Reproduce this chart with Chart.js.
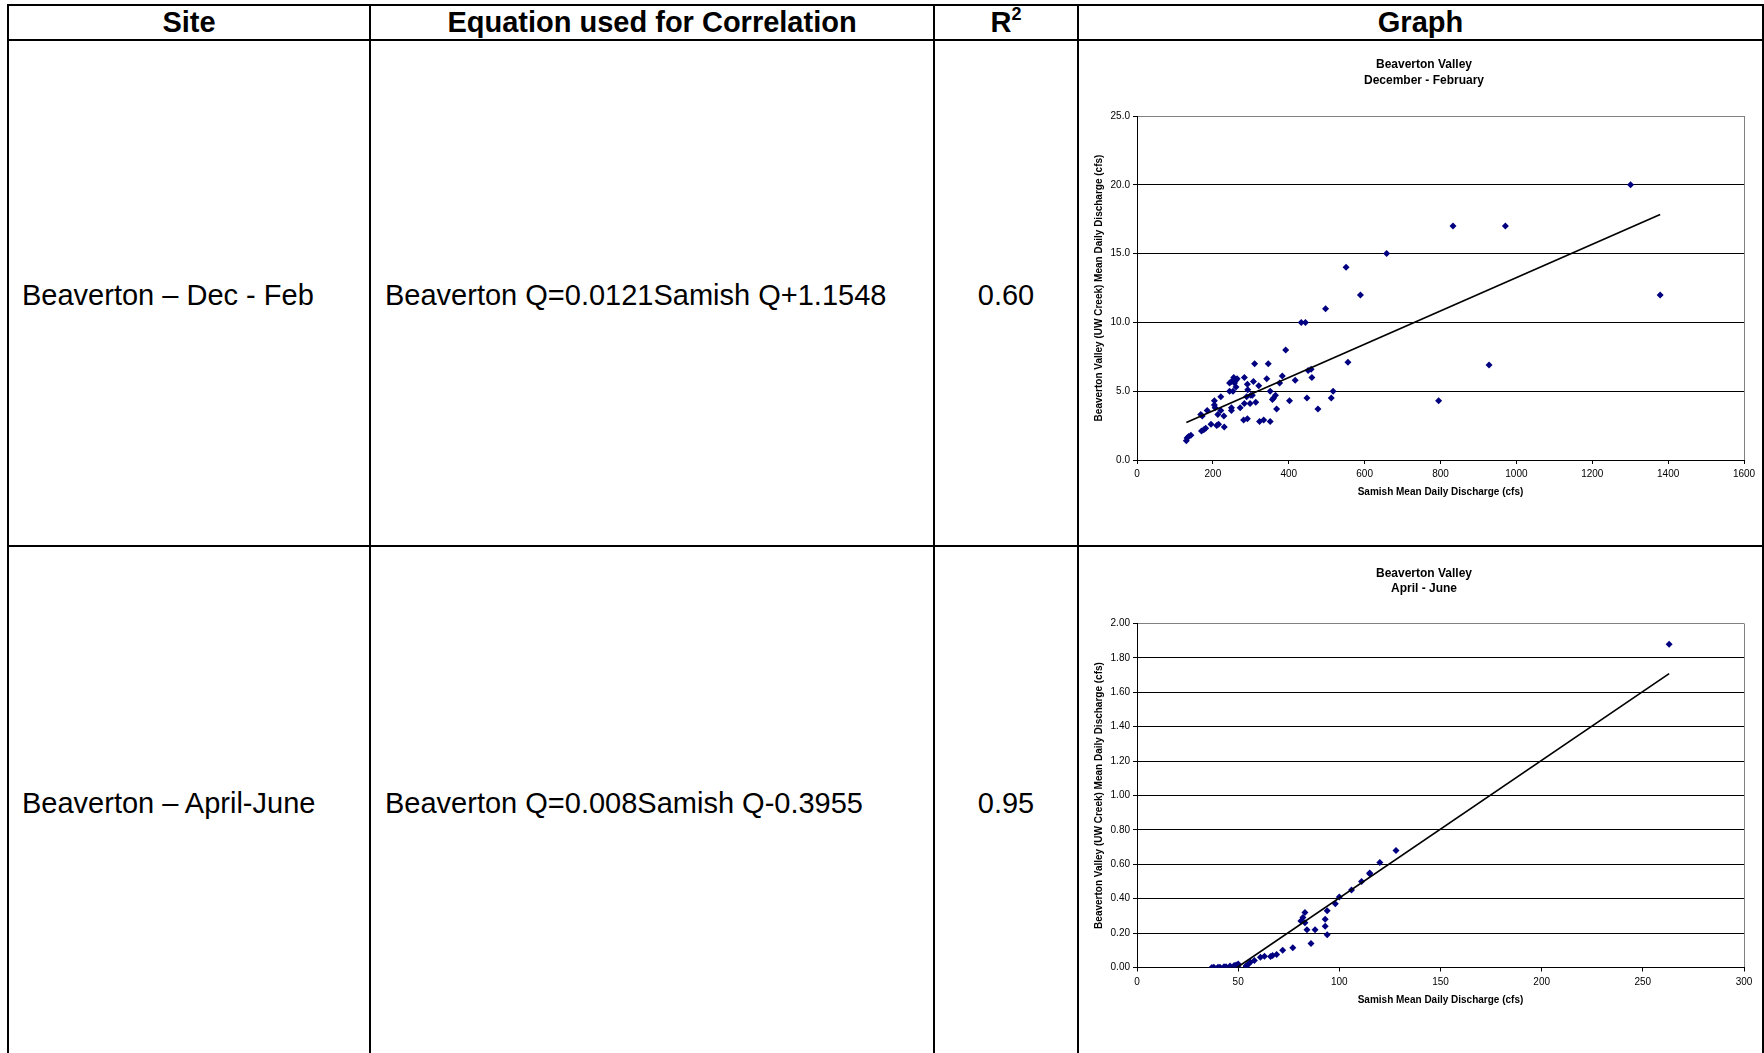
<!DOCTYPE html>
<html>
<head>
<meta charset="utf-8">
<title>Beaverton Valley discharge correlations</title>
<script src="https://cdn.jsdelivr.net/npm/chart.js@4.4.1/dist/chart.umd.min.js"></script>
<style>
  html, body { margin: 0; padding: 0; background: #fff; }
  body {
    width: 1764px; height: 1053px; overflow: hidden; position: relative;
    font-family: 'Liberation Sans', Arial, Helvetica, sans-serif; color: #000;
  }
  .ln { position: absolute; background: #000; }
  .cell { position: absolute; display: flex; align-items: center; font-size: 29px; white-space: nowrap; box-sizing: border-box; }
  .hd { justify-content: center; font-weight: bold; }
  .ctr { justify-content: center; }
  .lft { justify-content: flex-start; }
  .hd sup { font-size: 18px; line-height: 0; position: relative; top: -9px; vertical-align: baseline; }
  canvas { position: absolute; }
</style>
</head>
<body>
<div id="grid"></div>
<canvas id="chartDecFeb" width="682" height="504" style="left:1080px; top:41px;"></canvas>
<canvas id="chartAprJun" width="682" height="506" style="left:1080px; top:547px;"></canvas>

<script>
// ---- Table content ----
const headers = ['Site', 'Equation used for Correlation', 'R<sup>2</sup>', 'Graph'];
const sites = ['Beaverton \u2013 Dec - Feb', 'Beaverton \u2013 April-June'];
const slopes = [0.0121, 0.008];
const intercepts = [1.1548, -0.3955];
const rSquared = ['0.60', '0.95'];

// ---- December - February ----
const samishDecFeb = [130, 132, 136, 142, 170, 176, 181, 168, 172, 185,
  195, 204, 204, 206, 210, 215, 213, 221, 221, 229,
  230, 244, 244, 249, 253, 249, 249, 255, 257, 261,
  261, 264, 272, 281, 283, 283, 289, 291, 292, 291,
  298, 300, 304, 307, 310, 313, 321, 323, 334, 342,
  346, 351, 351, 357, 360, 365, 368, 376, 383, 392,
  402, 417, 433, 444, 448, 451, 459, 461, 477, 497,
  512, 517, 551, 556, 589, 658, 795, 833, 928, 971,
  1301, 1379];
const beavertonDecFeb = [1.4, 1.6, 1.7, 1.8, 2.1, 2.2, 2.3, 3.3, 3.2, 3.6,
  2.6, 4.3, 4.0, 3.8, 2.5, 2.6, 3.3, 4.6, 3.6, 3.2,
  2.4, 5.6, 5.0, 5.7, 5.0, 3.8, 3.6, 6.0, 5.6, 5.8,
  5.3, 5.9, 3.8, 2.9, 6.0, 4.1, 4.6, 5.5, 5.1, 3.0,
  4.1, 4.7, 4.7, 5.7, 7.0, 4.2, 5.4, 2.8, 2.9, 5.9,
  7.0, 5.0, 2.8, 4.4, 4.5, 4.7, 3.7, 5.6, 6.1, 8.0,
  4.3, 5.8, 10.0, 10.0, 4.5, 6.5, 6.6, 6.0, 3.7, 11.0,
  4.5, 5.0, 14.0, 7.1, 12.0, 15.0, 4.3, 17.0, 6.9, 17.0,
  20.0, 12.0];
const trendRangeDecFeb = [130, 1379];
const xTicksDecFeb = [0, 200, 400, 600, 800, 1000, 1200, 1400, 1600];
const xTickLabelsDecFeb = ['0', '200', '400', '600', '800', '1000', '1200', '1400', '1600'];
const yTicksDecFeb = [0, 5, 10, 15, 20, 25];
const yTickLabelsDecFeb = ['0.0', '5.0', '10.0', '15.0', '20.0', '25.0'];

// ---- April - June ----
const samishAprJun = [263, 128, 120, 115, 115, 111, 106, 100, 98, 94,
  93, 93, 94, 88, 84, 83, 82, 81, 83, 86,
  77, 72, 69, 66, 67, 63, 61, 58, 56, 55,
  54, 54, 50, 49, 50, 48, 46, 44, 43, 41,
  40, 38, 37];
const beavertonAprJun = [1.88, 0.68, 0.61, 0.55, 0.545, 0.50, 0.45, 0.41, 0.37, 0.33,
  0.28, 0.24, 0.19, 0.22, 0.22, 0.32, 0.29, 0.27, 0.26, 0.14,
  0.115, 0.10, 0.075, 0.064, 0.07, 0.066, 0.06, 0.04, 0.03, 0.02,
  0.01, 0.005, 0.02, 0.015, 0.002, 0.012, 0.008, 0.004, 0.004, 0.002,
  0.002, 0.002, 0.0];
const trendRangeAprJun = [37, 263];
const xTicksAprJun = [0, 50, 100, 150, 200, 250, 300];
const xTickLabelsAprJun = ['0', '50', '100', '150', '200', '250', '300'];
const yTicksAprJun = [0, 0.2, 0.4, 0.6, 0.8, 1.0, 1.2, 1.4, 1.6, 1.8, 2.0];
const yTickLabelsAprJun = ['0.00', '0.20', '0.40', '0.60', '0.80', '1.00', '1.20', '1.40', '1.60', '1.80', '2.00'];

const xAxisTitle = 'Samish Mean Daily Discharge (cfs)';
const yAxisTitle = 'Beaverton Valley (UW Creek) Mean Daily Discharge (cfs)';

// ---- Table grid: 2px rules and cell text ----
const grid = document.getElementById('grid');
function rule(l, t, w, h) {
  const d = document.createElement('div');
  d.className = 'ln';
  d.style.cssText = `left:${l}px;top:${t}px;width:${w}px;height:${h}px;`;
  grid.appendChild(d);
}
rule(7, 4, 1757, 2);
rule(7, 39, 1757, 2);
rule(7, 545, 1757, 2);
[7, 369, 933, 1077, 1762].forEach(x => rule(x, 4, 2, 1060));

const cols = [[9, 369], [371, 933], [935, 1077], [1079, 1762]];
const rows = [[6, 39], [43, 547], [547, 1059]];
function cell(html, col, row, cls, padLeft) {
  const d = document.createElement('div');
  d.className = 'cell ' + cls;
  const [l, r] = cols[col], [t, b] = rows[row];
  d.style.cssText = `left:${l}px;top:${t}px;width:${r - l}px;height:${b - t}px;` +
    (padLeft ? `padding-left:${padLeft}px;` : '');
  d.innerHTML = html;
  grid.appendChild(d);
}
headers.forEach((h, i) => cell(h, i, 0, 'hd'));
sites.forEach((s, i) => {
  const b = intercepts[i];
  const eq = `Beaverton Q=${slopes[i]}Samish Q${b >= 0 ? '+' : ''}${b}`;
  cell(s, 0, i + 1, 'lft', 13);
  cell(eq, 1, i + 1, 'lft', 14);
  cell(rSquared[i], 2, i + 1, 'ctr');
});

// ---- Charts ----
const FONT = "'Liberation Sans', Arial, Helvetica, sans-serif";
const NAVY = '#000080';
const FRAME = '#808080';

function makeChart(id, o) {
  const lastX = o.xTicks.length - 1;
  const topY = o.yTicks[o.yTicks.length - 1];
  const points = o.x.map((v, i) => ({ x: v, y: o.y[i] }));
  const trend = o.trendRange.map(v => ({ x: v, y: o.slope * v + o.intercept }));
  return new Chart(document.getElementById(id), {
    type: 'scatter',
    data: {
      datasets: [
        {
          data: points, backgroundColor: NAVY, borderColor: NAVY,
          pointStyle: 'rectRot', pointRadius: 3.5, pointHoverRadius: 3.5,
          pointBorderWidth: 0, order: 2
        },
        {
          type: 'line', data: trend, borderColor: '#000', borderWidth: 1.7,
          pointRadius: 0, fill: false, tension: 0, order: 1
        }
      ]
    },
    options: {
      responsive: false, animation: false, events: [],
      layout: { padding: { top: 0, left: 24, right: 18, bottom: o.padBottom } },
      plugins: {
        legend: { display: false },
        tooltip: { enabled: false },
        title: {
          display: true, text: o.title, color: '#000',
          font: { family: FONT, size: 12, weight: 'bold', lineHeight: o.titleLH + 'px' },
          padding: { top: o.titleTop, bottom: o.titleBottom }
        }
      },
      scales: {
        x: {
          type: 'linear', min: o.xTicks[0], max: o.xTicks[lastX],
          afterBuildTicks: s => { s.ticks = o.xTicks.map(v => ({ value: v })); },
          afterFit: s => { s.height = 40; },
          ticks: {
            callback: (v, i) => o.xLabels[i], color: '#000',
            font: { family: FONT, size: 10 }, padding: o.xTickPad,
            maxRotation: 0, autoSkip: false
          },
          grid: {
            drawOnChartArea: true, lineWidth: 1, tickLength: 4, tickColor: '#000',
            color: c => (c.index === lastX ? FRAME : 'rgba(0,0,0,0)')
          },
          border: { display: true, color: '#000', width: 1 },
          title: {
            display: true, text: xAxisTitle, color: '#000',
            font: { family: FONT, size: 10, weight: 'bold' },
            padding: { top: 0, bottom: o.xTitleBottom }
          }
        },
        y: {
          type: 'linear', min: o.yTicks[0], max: topY,
          afterBuildTicks: s => { s.ticks = o.yTicks.map(v => ({ value: v })); },
          afterFit: s => { s.width = 33; },
          ticks: {
            callback: (v, i) => o.yLabels[i], color: '#000',
            font: { family: FONT, size: 10 }, padding: 3
          },
          grid: {
            lineWidth: 1, tickLength: 4, tickColor: '#000',
            color: c => (c.tick && c.tick.value === topY ? FRAME : '#000')
          },
          border: { display: true, color: '#000', width: 1 },
          title: {
            display: true, text: yAxisTitle, color: '#000',
            font: { family: FONT, size: 10, weight: 'bold' },
            padding: { top: -10.5, bottom: 0 }
          }
        }
      }
    }
  });
}

makeChart('chartDecFeb', {
  title: ['Beaverton Valley', 'December - February'],
  titleLH: 16, titleTop: 16, titleBottom: 27, padBottom: 45,
  xTickPad: 4, xTitleBottom: 2,
  x: samishDecFeb, y: beavertonDecFeb,
  slope: slopes[0], intercept: intercepts[0], trendRange: trendRangeDecFeb,
  xTicks: xTicksDecFeb, xLabels: xTickLabelsDecFeb,
  yTicks: yTicksDecFeb, yLabels: yTickLabelsDecFeb
});

makeChart('chartAprJun', {
  title: ['Beaverton Valley', 'April - June'],
  titleLH: 15, titleTop: 18.8, titleBottom: 27.7, padBottom: 45.5,
  xTickPad: 4.5, xTitleBottom: 1.5,
  x: samishAprJun, y: beavertonAprJun,
  slope: slopes[1], intercept: intercepts[1], trendRange: trendRangeAprJun,
  xTicks: xTicksAprJun, xLabels: xTickLabelsAprJun,
  yTicks: yTicksAprJun, yLabels: yTickLabelsAprJun
});
</script>
</body>
</html>
